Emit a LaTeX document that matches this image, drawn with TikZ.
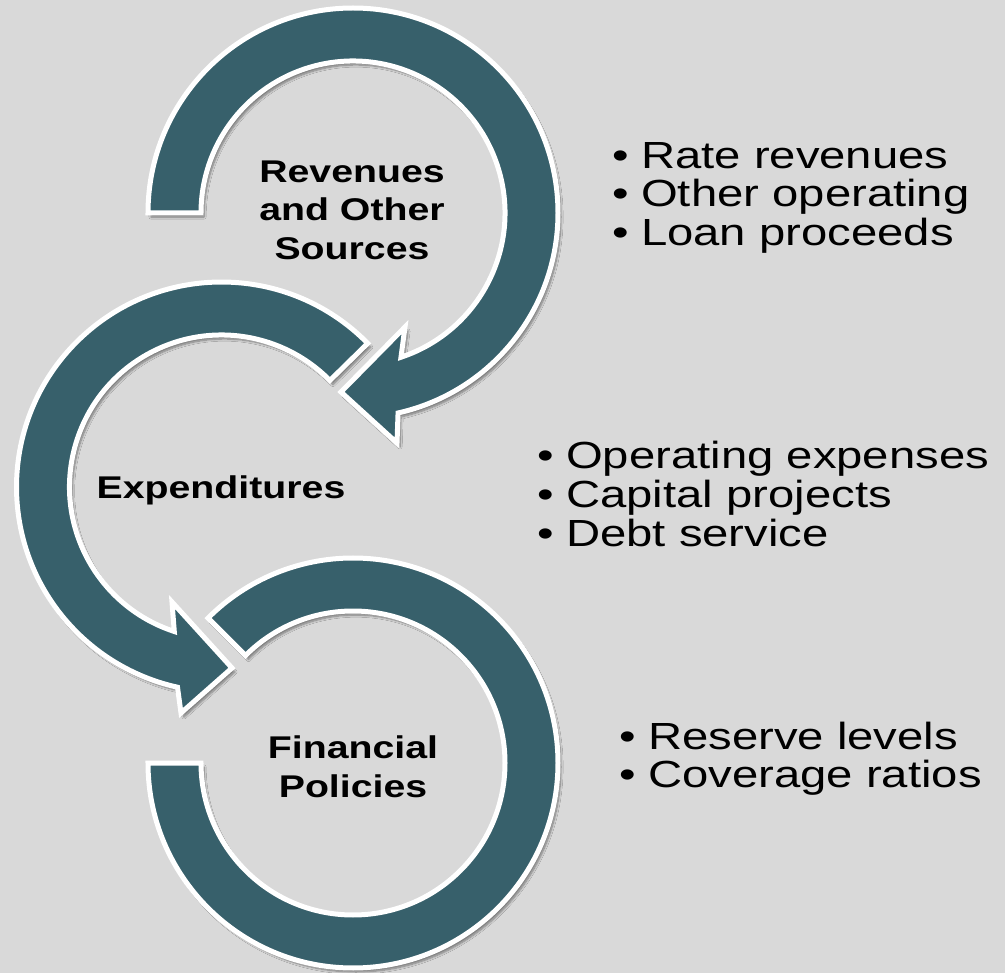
\documentclass[tikz,border=0pt]{standalone}
\usepackage{fontspec}
\setmainfont{Liberation Sans}
\newfontfamily\labfont[FakeStretch=1.25]{Liberation Sans}
\usetikzlibrary{calc,shadows.blur}
\definecolor{bgc}{RGB}{217,217,217}
\definecolor{ringteal}{RGB}{55,96,107}
\tikzset{
  ring/.style={fill=ringteal, draw=white, line width=5pt, line join=miter,
    blur shadow={shadow xshift=3pt, shadow yshift=-4pt, shadow blur steps=8, shadow opacity=45}},
  title/.style={font=\labfont\bfseries\fontsize{31.4}{38.5}\selectfont, align=center, inner sep=0pt, text=black},
  bul/.style={font=\labfont\fontsize{37.8}{39}\selectfont, anchor=base west, inner sep=0pt, text=black},
}
\newcommand{\bl}[1]{\makebox[29pt][l]{\textbullet}#1}
\begin{document}
\begin{tikzpicture}[x=1pt,y=1pt]
\path[use as bounding box, fill=bgc] (0,0) rectangle (1005,-973);
\coordinate (c1) at (353,-213);
\coordinate (c2) at (221.5,-487);
\coordinate (c3) at (353,-763);
% arrow 1 : Revenues
\draw[ring] ($(c1)+(180:205)$) arc[start angle=180, end angle=-77.3, radius=205]
  -- (397,-443) -- (341,-392) -- (405,-327)
  -- ($(c1)+(-71.6:152)$) arc[start angle=-71.6, end angle=180, radius=152] -- cycle;
% arrow 2 : Expenditures
\draw[ring] ($(c2)+(44.5:205)$) arc[start angle=44.5, end angle=257.6, radius=205]
  -- (181,-713) -- (232,-668) -- (172,-602)
  -- ($(c2)+(251.9:152)$) arc[start angle=251.9, end angle=44.5, radius=152] -- cycle;
% arrow 3 : Financial Policies
\draw[ring] ($(c3)+(180:205)$) arc[start angle=180, end angle=495, radius=205]
  -- ($(c3)+(495:152)$) arc[start angle=495, end angle=180, radius=152] -- cycle;
% titles
\node[title] (rev) at (352,-210) {Revenues\\and Other\\Sources};
\node[title] (exp) at (221,-490) {Expenditures};
\node[title] (fin) at (353,-767) {Financial\\Policies};
% bullets
\node[bul] (b1a) at (612,-169) {\bl{Rate revenues}};
\node[bul] (b1b) at (612,-207) {\bl{Other operating}};
\node[bul] (b1c) at (612,-246) {\bl{Loan proceeds}};
\node[bul] (b2a) at (537,-469) {\bl{Operating expenses}};
\node[bul] (b2b) at (537,-508) {\bl{Capital projects}};
\node[bul] (b2c) at (537,-547) {\bl{Debt service}};
\node[bul] (b3a) at (619,-749) {\bl{Reserve levels}};
\node[bul] (b3b) at (619,-787) {\bl{Coverage ratios}};
\end{tikzpicture}
\end{document}
